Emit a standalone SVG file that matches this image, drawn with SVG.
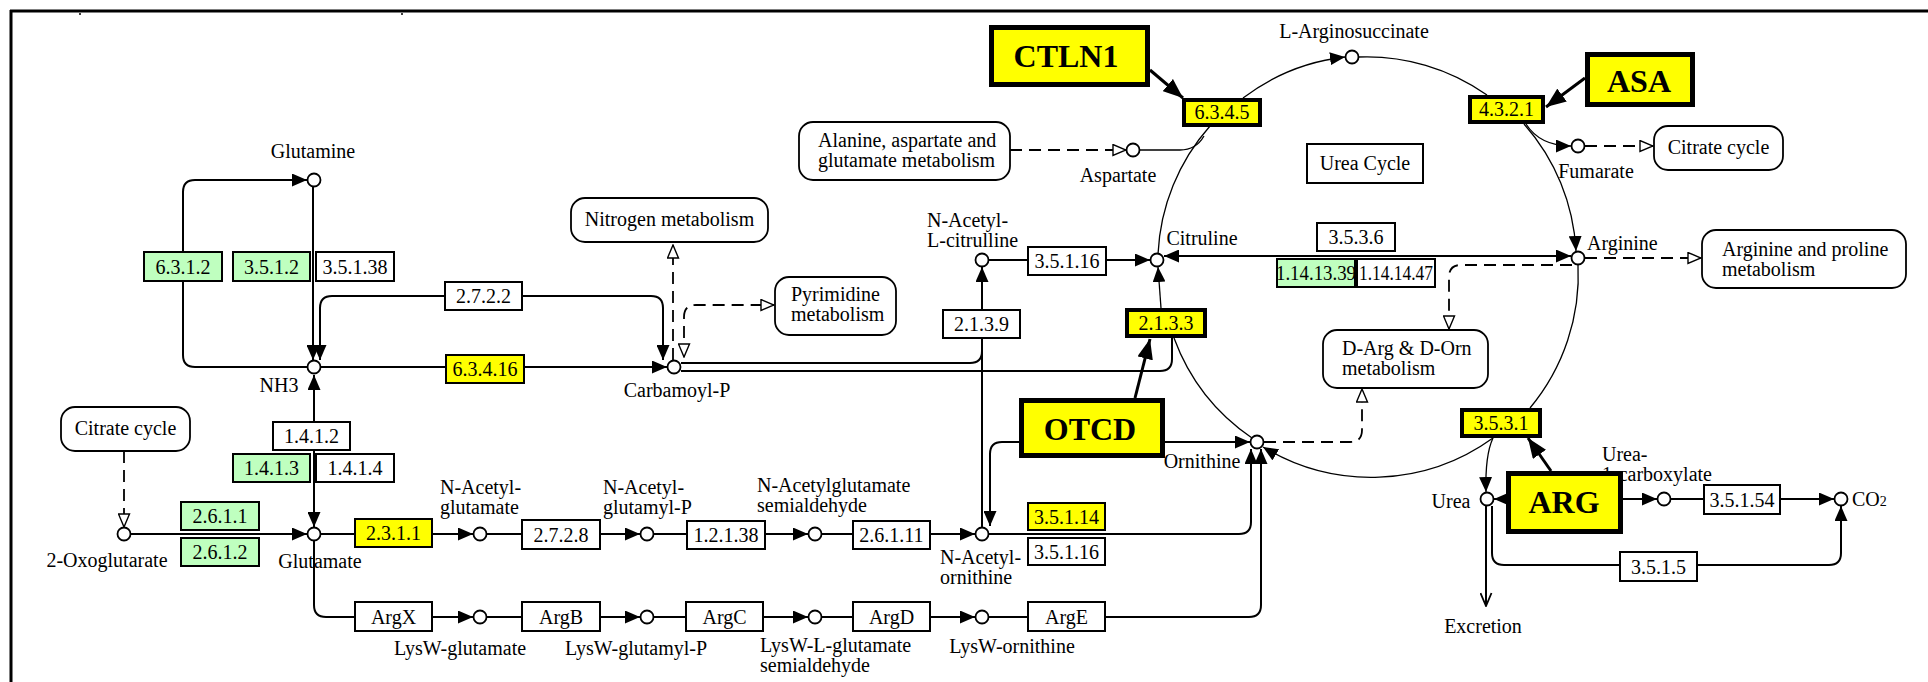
<svg xmlns="http://www.w3.org/2000/svg" width="1928" height="682" viewBox="0 0 1928 682">
<style>
  .t { font-family: "Liberation Serif", "Times New Roman", serif; font-size: 20px; fill: #000; text-anchor: middle; }
  .tl { font-family: "Liberation Serif", "Times New Roman", serif; font-size: 20px; fill: #000; text-anchor: start; }
  .big { font-family: "Liberation Serif", "Times New Roman", serif; font-size: 32px; font-weight: bold; fill: #000; text-anchor: middle; }
  .e { fill: #fff; stroke: #000; stroke-width: 2; }
  .g { fill: #bfffbf; stroke: #000; stroke-width: 2; }
  .y { fill: #ffff00; stroke: #000; stroke-width: 2; }
  .yk { fill: #ffff00; stroke: #000; stroke-width: 4; }
  .gene { fill: #ffff00; stroke: #000; stroke-width: 5; }
  .map { fill: #fff; stroke: #000; stroke-width: 1.8; }
  .c { fill: #fff; stroke: #000; stroke-width: 1.8; }
  .ln { fill: none; stroke: #000; stroke-width: 2; }
  .arc { fill: none; stroke: #000; stroke-width: 1.3; }
  .ds { fill: none; stroke: #000; stroke-width: 1.8; stroke-dasharray: 12 7; }
  .bold { fill: none; stroke: #000; stroke-width: 3; }
  .fa { marker-end: url(#fa); }
  .fa2 { marker-start: url(#fa); marker-end: url(#fa); }
  .oa { marker-end: url(#oa); }
  .oa2 { marker-start: url(#oa); marker-end: url(#oa); }
</style>
<defs>
  <marker id="fa" viewBox="0 0 15 13" refX="15" refY="6.5" markerWidth="15" markerHeight="13" markerUnits="userSpaceOnUse" orient="auto-start-reverse">
    <path d="M0,0 L15,6.5 L0,13 z" fill="#000"/>
  </marker>
  <marker id="oa" viewBox="0 0 15 13" refX="14" refY="6.5" markerWidth="15" markerHeight="13" markerUnits="userSpaceOnUse" orient="auto-start-reverse">
    <path d="M1,1 L14,6.5 L1,12 z" fill="#fff" stroke="#000" stroke-width="1.4"/>
  </marker>
  <marker id="va" viewBox="0 0 15 13" refX="14" refY="6.5" markerWidth="15" markerHeight="13" markerUnits="userSpaceOnUse" orient="auto">
    <path d="M1,1 L14,6.5 L1,12" fill="none" stroke="#000" stroke-width="1.8"/>
  </marker>
  <marker id="ba" viewBox="0 0 20 16" refX="20" refY="8" markerWidth="20" markerHeight="16" markerUnits="userSpaceOnUse" orient="auto">
    <path d="M0,0 L20,8 L0,16 z" fill="#000"/>
  </marker>
</defs>

<rect width="1928" height="682" fill="#fff"/>

<!-- frame -->
<g id="frame" fill="none" stroke="#000" stroke-width="3">
  <path d="M10,11 H1928"/>
  <path d="M11,10 V682"/>
  <path d="M80,13 v2 M402,13 v2" stroke-width="1.5"/>
</g>

<g id="connectors">
  <!-- glutamine / NH3 / carbamoyl-P -->
  <path class="ln fa" d="M307,367 H195 Q183,367 183,355 V192 Q183,180 195,180 H307"/>
  <path class="ln fa" d="M313,187 V360"/>
  <path class="ln fa2" d="M320,360 V308 Q320,296 332,296 H651 Q663,296 663,308 V360"/>
  <path class="ln fa" d="M321,367 H667"/>
  <path class="ds oa" d="M673,360 V245"/>
  <path class="ds oa2" d="M684,357 V317 Q684,305 696,305 H774"/>
  <path class="ln" d="M681,363 H970 Q982,363 982,351"/>
  <path class="ln" d="M681,371 H1160 Q1172,371 1172,359 V338"/>
  <!-- glutamate row -->
  <path class="ds oa" d="M124,451 V527"/>
  <path class="ln fa" d="M131,534 H307"/>
  <path class="ln fa2" d="M314,375 V527"/>
  <path class="ln fa" d="M321,534 H473"/>
  <path class="ln fa" d="M487,534 H640"/>
  <path class="ln fa" d="M654,534 H808"/>
  <path class="ln fa" d="M822,534 H975"/>
  <!-- LysW row -->
  <path class="ln fa" d="M314,541 V605 Q314,617 326,617 H473"/>
  <path class="ln fa" d="M487,617 H640"/>
  <path class="ln fa" d="M654,617 H808"/>
  <path class="ln fa" d="M822,617 H975"/>
  <path class="ln fa" d="M989,617 H1249 Q1261,617 1261,605 V449"/>
  <path class="ln fa" d="M989,534 H1239 Q1251,534 1251,522 V449"/>
  <!-- N-acetyl-ornithine to N-acetyl-L-citrulline / ornithine -->
  <path class="ln fa" d="M982,527 V267"/>
  <path class="ln fa2" d="M990,526 V454 Q990,442 1002,442 H1250"/>
  <path class="ln fa" d="M989,260 H1150"/>
  <!-- aspartate -->
  <path class="ds oa" d="M1010,150 H1126"/>
  <path class="arc" d="M1140,150 H1180 Q1196,150 1204,136"/>
  <!-- urea cycle -->
  <path class="arc" d="M1158,254 A208,208 0 0 1 1210,126"/>
  <path class="arc fa" d="M1243,98 A208,208 0 0 1 1345,57"/>
  <path class="arc" d="M1358,57 A208,208 0 0 1 1487,95"/>
  <path class="arc fa" d="M1524,124 A208,208 0 0 1 1576,251"/>
  <path class="arc fa" d="M1526,124 Q1540,146 1571,146"/>
  <path class="arc" d="M1578,264 A208,208 0 0 1 1530,408"/>
  <path class="arc fa" d="M1493,438 A208,208 0 0 1 1263,447"/>
  <path class="arc fa" d="M1493,438 Q1485,455 1486,492"/>
  <path class="arc" d="M1252,438 A208,208 0 0 1 1174,338"/>
  <path class="arc fa" d="M1161,308 L1158,267"/>
  <path class="ln fa2" d="M1164,256 H1571"/>
  <!-- links to other maps -->
  <path class="ds oa" d="M1585,146 H1653"/>
  <path class="ds oa" d="M1585,258 H1701"/>
  <path class="ds oa" d="M1572,265 H1461 Q1449,265 1449,277 V329"/>
  <path class="ds oa" d="M1264,442 H1350 Q1362,442 1362,430 V389"/>
  <!-- urea -->
  <path class="ln fa2" d="M1494,499 H1657"/>
  <path class="ln fa" d="M1671,499 H1834"/>
  <path class="ln fa" d="M1492,506 V553 Q1492,565 1504,565 H1829 Q1841,565 1841,553 V506"/>
  <path class="ln" d="M1486,506 V606" marker-end="url(#va)"/>
  <!-- gene annotations -->
  <path class="bold" d="M1150,70 L1183,98" marker-end="url(#ba)"/>
  <path class="bold" d="M1585,78 L1546,107" marker-end="url(#ba)"/>
  <path class="bold" d="M1135,398 L1150,339" marker-end="url(#ba)"/>
  <path class="bold" d="M1551,471 L1528,438" marker-end="url(#ba)"/>
</g>

<!-- pathway maps -->
<g id="map-nitrogen"><rect class="map" x="571" y="198" width="197" height="44" rx="14"/><text class="t" x="669.5" y="226">Nitrogen metabolism</text></g>
<g id="map-pyrimidine"><rect class="map" x="775" y="277" width="121" height="58" rx="14"/><text class="tl" x="791" y="301">Pyrimidine<tspan x="791" dy="20">metabolism</tspan></text></g>
<g id="map-alanine"><rect class="map" x="799" y="122" width="211" height="58" rx="14"/><text class="tl" x="818" y="147">Alanine, aspartate and<tspan x="818" dy="20">glutamate metabolism</tspan></text></g>
<g id="map-citrate-r"><rect class="map" x="1654" y="126" width="129" height="44" rx="14"/><text class="t" x="1718.5" y="154">Citrate cycle</text></g>
<g id="map-argpro"><rect class="map" x="1702" y="230" width="204" height="58" rx="14"/><text class="tl" x="1722" y="256">Arginine and proline<tspan x="1722" dy="20">metabolism</tspan></text></g>
<g id="map-darg"><rect class="map" x="1323" y="330" width="165" height="58" rx="14"/><text class="tl" x="1342" y="355">D-Arg &amp; D-Orn<tspan x="1342" dy="20">metabolism</tspan></text></g>
<g id="map-citrate-l"><rect class="map" x="61" y="407" width="129" height="44" rx="14"/><text class="t" x="125.5" y="435">Citrate cycle</text></g>
<g id="title-urea-cycle"><rect class="e" x="1307" y="144" width="116" height="39"/><text class="t" x="1365" y="170">Urea Cycle</text></g>

<!-- enzymes -->
<g id="ec-6.3.1.2"><rect class="g" x="144" y="252" width="78" height="29"/><text class="t" x="183" y="273.5">6.3.1.2</text></g>
<g id="ec-3.5.1.2"><rect class="g" x="233" y="252" width="77" height="29"/><text class="t" x="271.5" y="273.5">3.5.1.2</text></g>
<g id="ec-3.5.1.38"><rect class="e" x="316" y="252" width="78" height="29"/><text class="t" x="355" y="273.5">3.5.1.38</text></g>
<g id="ec-2.7.2.2"><rect class="e" x="445" y="282" width="77" height="28"/><text class="t" x="483.5" y="303">2.7.2.2</text></g>
<g id="ec-6.3.4.16"><rect class="y" x="446" y="355" width="78" height="28"/><text class="t" x="485" y="376">6.3.4.16</text></g>
<g id="ec-1.4.1.2"><rect class="e" x="273" y="422" width="77" height="28"/><text class="t" x="311.5" y="443">1.4.1.2</text></g>
<g id="ec-1.4.1.3"><rect class="g" x="233" y="454" width="77" height="28"/><text class="t" x="271.5" y="475">1.4.1.3</text></g>
<g id="ec-1.4.1.4"><rect class="e" x="316" y="454" width="78" height="28"/><text class="t" x="355" y="475">1.4.1.4</text></g>
<g id="ec-2.6.1.1"><rect class="g" x="181" y="502" width="78" height="28"/><text class="t" x="220" y="523">2.6.1.1</text></g>
<g id="ec-2.6.1.2"><rect class="g" x="181" y="538" width="78" height="28"/><text class="t" x="220" y="559">2.6.1.2</text></g>
<g id="ec-2.3.1.1"><rect class="y" x="355" y="519" width="77" height="28"/><text class="t" x="393.5" y="540">2.3.1.1</text></g>
<g id="ec-2.7.2.8"><rect class="e" x="522" y="520" width="78" height="29"/><text class="t" x="561" y="541.5">2.7.2.8</text></g>
<g id="ec-1.2.1.38"><rect class="e" x="687" y="521" width="78" height="28"/><text class="t" x="726" y="542">1.2.1.38</text></g>
<g id="ec-2.6.1.11"><rect class="e" x="853" y="521" width="77" height="28"/><text class="t" x="891.5" y="542">2.6.1.11</text></g>
<g id="ec-3.5.1.14"><rect class="y" x="1028" y="503" width="77" height="27"/><text class="t" x="1066.5" y="523.5">3.5.1.14</text></g>
<g id="ec-3.5.1.16-b"><rect class="e" x="1028" y="538" width="77" height="27"/><text class="t" x="1066.5" y="558.5">3.5.1.16</text></g>
<g id="ec-argx"><rect class="e" x="355" y="602" width="77" height="29"/><text class="t" x="393.5" y="623.5">ArgX</text></g>
<g id="ec-argb"><rect class="e" x="522" y="602" width="78" height="29"/><text class="t" x="561" y="623.5">ArgB</text></g>
<g id="ec-argc"><rect class="e" x="686" y="602" width="77" height="29"/><text class="t" x="724.5" y="623.5">ArgC</text></g>
<g id="ec-argd"><rect class="e" x="853" y="602" width="77" height="29"/><text class="t" x="891.5" y="623.5">ArgD</text></g>
<g id="ec-arge"><rect class="e" x="1028" y="602" width="77" height="29"/><text class="t" x="1066.5" y="623.5">ArgE</text></g>
<g id="ec-2.1.3.9"><rect class="e" x="943" y="310" width="77" height="28"/><text class="t" x="981.5" y="331">2.1.3.9</text></g>
<g id="ec-3.5.1.16-a"><rect class="e" x="1028" y="247" width="78" height="28"/><text class="t" x="1067" y="268">3.5.1.16</text></g>
<g id="ec-3.5.3.6"><rect class="e" x="1317" y="223" width="78" height="28"/><text class="t" x="1356" y="244">3.5.3.6</text></g>
<g id="ec-1.14.13.39"><rect class="g" x="1277" y="259" width="78" height="28"/><text class="t" x="1316" y="280" textLength="80" lengthAdjust="spacingAndGlyphs">1.14.13.39</text></g>
<g id="ec-1.14.14.47"><rect class="e" x="1357" y="259" width="78" height="28"/><text class="t" x="1396" y="280" textLength="74" lengthAdjust="spacingAndGlyphs">1.14.14.47</text></g>
<g id="ec-3.5.1.54"><rect class="e" x="1704" y="485" width="76" height="29"/><text class="t" x="1742" y="506.5">3.5.1.54</text></g>
<g id="ec-3.5.1.5"><rect class="e" x="1620" y="552" width="77" height="29"/><text class="t" x="1658.5" y="573.5">3.5.1.5</text></g>
<g id="ec-6.3.4.5"><rect class="yk" x="1184" y="100" width="76" height="25"/><text class="t" x="1222" y="119">6.3.4.5</text></g>
<g id="ec-4.3.2.1"><rect class="yk" x="1470" y="97" width="73" height="25"/><text class="t" x="1506.5" y="116">4.3.2.1</text></g>
<g id="ec-2.1.3.3"><rect class="yk" x="1127" y="310" width="78" height="26"/><text class="t" x="1166" y="330">2.1.3.3</text></g>
<g id="ec-3.5.3.1"><rect class="yk" x="1462" y="410" width="78" height="26"/><text class="t" x="1501" y="430">3.5.3.1</text></g>

<!-- compounds -->
<g id="c-glutamine"><circle class="c" cx="314" cy="180" r="6.5"/><text class="t" x="313" y="158">Glutamine</text></g>
<g id="c-nh3"><circle class="c" cx="314" cy="367" r="6.5"/><text class="t" x="279" y="392">NH3</text></g>
<g id="c-carbamoyl-p"><circle class="c" cx="674" cy="367" r="6.5"/><text class="t" x="677" y="397">Carbamoyl-P</text></g>
<g id="c-2-oxoglutarate"><circle class="c" cx="124" cy="534" r="6.5"/><text class="t" x="107" y="567">2-Oxoglutarate</text></g>
<g id="c-glutamate"><circle class="c" cx="314" cy="534" r="6.5"/><text class="t" x="320" y="568">Glutamate</text></g>
<g id="c-n-acetylglutamate"><circle class="c" cx="480" cy="534" r="6.5"/><text class="tl" x="440" y="494">N-Acetyl-<tspan x="440" dy="20">glutamate</tspan></text></g>
<g id="c-n-acetylglutamyl-p"><circle class="c" cx="647" cy="534" r="6.5"/><text class="tl" x="603" y="494">N-Acetyl-<tspan x="603" dy="20">glutamyl-P</tspan></text></g>
<g id="c-n-acetylglutamate-sa"><circle class="c" cx="815" cy="534" r="6.5"/><text class="tl" x="757" y="492">N-Acetylglutamate<tspan x="757" dy="20">semialdehyde</tspan></text></g>
<g id="c-n-acetylornithine"><circle class="c" cx="982" cy="534" r="6.5"/><text class="tl" x="940" y="564">N-Acetyl-<tspan x="940" dy="20">ornithine</tspan></text></g>
<g id="c-lysw-glutamate"><circle class="c" cx="480" cy="617" r="6.5"/><text class="t" x="460" y="655">LysW-glutamate</text></g>
<g id="c-lysw-glutamyl-p"><circle class="c" cx="647" cy="617" r="6.5"/><text class="t" x="636" y="655">LysW-glutamyl-P</text></g>
<g id="c-lysw-glutamate-sa"><circle class="c" cx="815" cy="617" r="6.5"/><text class="tl" x="760" y="652">LysW-L-glutamate<tspan x="760" dy="20">semialdehyde</tspan></text></g>
<g id="c-lysw-ornithine"><circle class="c" cx="982" cy="617" r="6.5"/><text class="t" x="1012" y="653">LysW-ornithine</text></g>
<g id="c-n-acetylcitrulline"><circle class="c" cx="982" cy="260" r="6.5"/><text class="tl" x="927" y="227">N-Acetyl-<tspan x="927" dy="20">L-citrulline</tspan></text></g>
<g id="c-citruline"><circle class="c" cx="1157" cy="260" r="6.5"/><text class="t" x="1202" y="245">Citruline</text></g>
<g id="c-aspartate"><circle class="c" cx="1133" cy="150" r="6.5"/><text class="t" x="1118" y="182">Aspartate</text></g>
<g id="c-arginosuccinate"><circle class="c" cx="1352" cy="57" r="6.5"/><text class="t" x="1354" y="38">L-Arginosuccinate</text></g>
<g id="c-fumarate"><circle class="c" cx="1578" cy="146" r="6.5"/><text class="t" x="1596" y="178">Fumarate</text></g>
<g id="c-arginine"><circle class="c" cx="1578" cy="258" r="6.5"/><text class="tl" x="1587" y="250">Arginine</text></g>
<g id="c-ornithine"><circle class="c" cx="1257" cy="442" r="6.5"/><text class="t" x="1202" y="468">Ornithine</text></g>
<g id="c-urea"><circle class="c" cx="1487" cy="499" r="6.5"/><text class="t" x="1451" y="508">Urea</text></g>
<g id="c-urea-carboxylate"><circle class="c" cx="1664" cy="499" r="6.5"/><text class="tl" x="1602" y="461">Urea-<tspan x="1602" dy="20">1-carboxylate</tspan></text></g>
<g id="c-co2"><circle class="c" cx="1841" cy="499" r="6.5"/><text class="tl" x="1852" y="506">CO<tspan font-size="14">2</tspan></text></g>
<g id="excretion"><text class="t" x="1483" y="633">Excretion</text></g>

<!-- gene labels -->
<g id="gene-ctln1"><rect class="gene" x="991.5" y="27.5" width="156" height="57"/><text class="big" x="1066" y="67">CTLN1</text></g>
<g id="gene-asa"><rect class="gene" x="1587.5" y="54.5" width="105" height="50"/><text class="big" x="1639" y="92">ASA</text></g>
<g id="gene-otcd"><rect class="gene" x="1021.5" y="400.5" width="141" height="55"/><text class="big" x="1090" y="440">OTCD</text></g>
<g id="gene-arg"><rect class="gene" x="1508.5" y="473.5" width="112" height="58"/><text class="big" x="1564" y="513">ARG</text></g>
</svg>
